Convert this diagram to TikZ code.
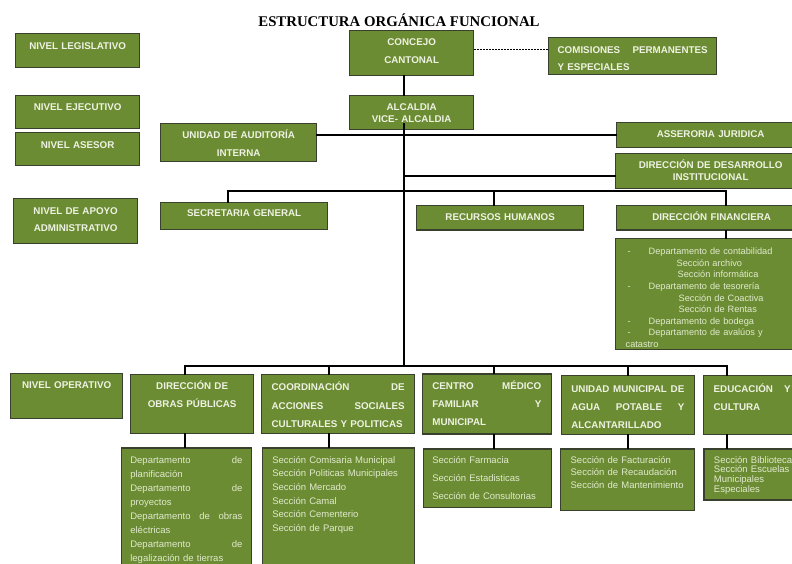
\documentclass[tikz,border=0pt]{standalone}
\usepackage{fontspec}
\setmainfont{Liberation Sans}
\newfontfamily\titlefont{Liberation Serif}
\usetikzlibrary{positioning}

\definecolor{boxgreen}{RGB}{108,140,52}
\definecolor{boxedge}{RGB}{58,64,46}
\definecolor{boxtext}{RGB}{238,242,226}
\definecolor{listtext}{RGB}{224,234,204}

\hyphenpenalty=10000
\newcommand\boxfont[1]{\bfseries\fontsize{9.8}{#1}\selectfont}
\newcommand\listfont[1]{\fontsize{9.5}{#1}\selectfont}
\newcommand\dep{\hspace*{2pt}\makebox[21pt][l]{-}}

\begin{document}
\begin{tikzpicture}[x=1pt,y=-1pt,
  box/.style={draw=boxedge, line width=1.3pt, fill=boxgreen, text=boxtext,
    anchor=north west, align=center},
  list/.style={box, align=left, text=listtext},
  % width, height, top pad, side pad
  cell/.code n args={4}{%
    \pgfmathsetmacro\cellw{#1-2*#4}%
    \pgfmathsetmacro\cellh{#3+7}%
    \pgfmathsetmacro\celld{#2-#3-7}%
    \tikzset{inner xsep=#4pt, inner ysep=0pt, text width=\cellw pt,
      text height=\cellh pt, text depth=\celld pt}},
  link/.style={line width=1.7pt, line cap=rect}]

\useasboundingbox (0,0) rectangle (792,563);
\clip (0,0) rectangle (792,563);

% title
\node[anchor=base, font=\titlefont\bfseries\fontsize{14.8}{17}\selectfont] (title) at (399,26) {ESTRUCTURA ORGÁNICA FUNCIONAL};

% levels
\node[box, cell={124}{34}{8.5}{6}, font=\boxfont{12}] (legis) at (15,33) {NIVEL LEGISLATIVO};
\node[box, cell={124}{33}{8.3}{6}, font=\boxfont{12}] (ejec) at (15,95) {NIVEL EJECUTIVO};
\node[box, cell={124}{33}{8.6}{6}, font=\boxfont{12}] (asesor) at (15,132) {NIVEL ASESOR};
\node[box, cell={124}{45}{8.6}{6}, font=\boxfont{17.7}] (apoyo) at (13,198) {NIVEL DE APOYO\\ADMINISTRATIVO};
\node[box, cell={112}{45}{8.3}{6}, font=\boxfont{12}] (operativo) at (10,373) {NIVEL OPERATIVO};

% top of the chart
\node[box, cell={124}{45}{7.5}{6}, font=\boxfont{18.5}] (concejo) at (349,30) {CONCEJO\\CANTONAL};
\node[box, cell={168}{37}{9}{9}, align=left, font=\boxfont{16.4}] (comis) at (548,37) {COMISIONES\hfill PERMANENTES\\Y ESPECIALES};
\node[box, cell={124}{34}{7.6}{6}, font=\boxfont{12.3}] (alcaldia) at (349,95) {ALCALDIA\\VICE- ALCALDIA};
\node[box, cell={156}{38}{7.9}{6}, font=\boxfont{18.4}] (auditoria) at (160,123) {UNIDAD DE AUDITORÍA\\INTERNA};
\node[box, cell={188}{25}{8.2}{6}, font=\boxfont{12}] (juridica) at (616,122) {ASSERORIA JURIDICA};
\node[box, cell={190}{35}{7.6}{6}, font=\boxfont{12.4}] (desarrollo) at (615,153) {DIRECCIÓN DE DESARROLLO\\INSTITUCIONAL};

% support
\node[box, cell={167}{26.6}{7.2}{6}, font=\boxfont{12}] (secretaria) at (160,202) {SECRETARIA GENERAL};
\node[box, cell={167}{24.3}{7.6}{6}, font=\boxfont{12}] (rrhh) at (416,205) {RECURSOS HUMANOS};
\node[box, cell={190}{24.3}{7.6}{6}, font=\boxfont{12}] (financiera) at (616,205) {DIRECCIÓN FINANCIERA};
\node[list, cell={190}{111}{9}{10}, font=\fontsize{9.2}{11.6}\selectfont] (fin-dep) at (615,238)
  {\dep Departamento de contabilidad\\
   \hspace*{51pt}Sección archivo\\
   \hspace*{52pt}Sección informática\\
   \dep Departamento de tesorería\\
   \hspace*{53pt}Sección de Coactiva\\
   \hspace*{53pt}Sección de Rentas\\
   \dep Departamento de bodega\\
   \dep Departamento de avalúos y\\
   catastro};

% operative
\node[box, cell={123}{59}{7.6}{6}, font=\boxfont{18.3}] (obras) at (130,374) {DIRECCIÓN DE\\OBRAS PÚBLICAS};
\node[box, cell={153}{59}{9.3}{10}, align=left, font=\boxfont{18.3}] (acciones) at (261,374)
  {COORDINACIÓN\hfill DE\\ACCIONES\hfill SOCIALES\\CULTURALES Y POLITICAS};
\node[box, cell={129}{60}{8.3}{10}, align=left, font=\boxfont{18.3}] (medico) at (421.7,373.3)
  {CENTRO\hfill MÉDICO\\FAMILIAR\hfill Y\\MUNICIPAL};
\node[box, cell={133}{59}{9.9}{10}, align=left, font=\boxfont{18}] (agua) at (560.7,375)
  {UNIDAD\hfill MUNICIPAL\hfill DE\\AGUA\hfill POTABLE\hfill Y\\ALCANTARILLADO};
\node[box, cell={97}{59}{9.9}{10}, align=left, font=\boxfont{18.4}] (educacion) at (703,375)
  {EDUCACIÓN\hfill Y\\CULTURA};

\node[list, cell={130}{120}{8.3}{9}, font=\listfont{14}] (obras-dep) at (120.7,447.3)
  {Departamento\hfill de\\planificación\\Departamento\hfill de\\proyectos\\
   Departamento\hfill de\hfill obras\\eléctricas\\Departamento\hfill de\\legalización de tierras};
\node[list, cell={152}{120}{8.2}{10}, font=\listfont{13.7}] (acciones-dep) at (261.7,447.3)
  {Sección Comisaria Municipal\\Sección Politicas Municipales\\Sección Mercado\\
   Sección Camal\\Sección Cementerio\\Sección de Parque};
\node[list, cell={128}{58.4}{7.3}{9}, font=\listfont{18.3}] (medico-dep) at (422.7,448.3)
  {Sección Farmacia\\Sección Estadisticas\\Sección de Consultorias};
\node[list, cell={134}{61.7}{7.3}{10}, font=\listfont{12.7}] (agua-dep) at (560,448.3)
  {Sección de Facturación\\Sección de Recaudación\\Sección de Mantenimiento};
\node[list, cell={100}{51}{7.3}{10}, font=\listfont{9.6}] (educacion-dep) at (703.3,448.3)
  {Sección Biblioteca\\Sección Escuelas\\Municipales\\Especiales};

% connectors
\coordinate (spine) at (404,0);
\coordinate (apoyo-bus) at (404,191);
\coordinate (op-bus) at (404,366);

\draw[line width=1.1pt, dash pattern=on 2pt off 1pt] ([yshift=3.5pt]concejo.east) -- ([yshift=3.5pt]concejo.east -| comis.west);
\draw[link] (spine |- concejo.south) -- (spine |- alcaldia.north);
\draw[link] ([yshift=6pt]spine |- alcaldia.south) -- (op-bus);
\draw[link] (auditoria.east |- juridica.west) -- (juridica.west);
\draw[link] (spine |- desarrollo.west) ++(0,4.5) -- ([yshift=-4.5pt]desarrollo.west);

\draw[link] ([xshift=-16.5pt]secretaria.north) |- ([xshift=14pt]financiera.north |- apoyo-bus) -- ([xshift=14pt]financiera.north);
\draw[link] ([xshift=-6.5pt]rrhh.north) -- ([xshift=-6.5pt]rrhh.north |- apoyo-bus);
\draw[link] ([xshift=14pt]financiera.south) -- ([xshift=14pt]financiera.south |- fin-dep.north);

\draw[link] ([xshift=-7.5pt]obras.north |- op-bus) -- ([xshift=-25.5pt]educacion.north |- op-bus);
\foreach \head/\dept/\dx in {obras/obras-dep/-7.5, acciones/acciones-dep/-9.5,
    medico/medico-dep/6.8, agua/agua-dep/0, educacion/educacion-dep/-25.5}{
  \draw[link] ([xshift=\dx pt]\head.north) -- ([xshift=\dx pt]\head.north |- op-bus);
  \draw[link] ([xshift=\dx pt]\head.south) -- ([xshift=\dx pt]\head.south |- \dept.north);
}
\end{tikzpicture}
\end{document}
